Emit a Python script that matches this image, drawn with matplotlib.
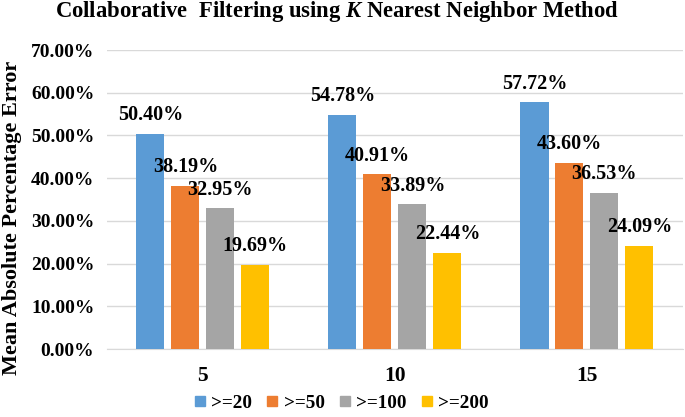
import matplotlib
matplotlib.use("Agg")
import matplotlib.pyplot as plt
from matplotlib.lines import Line2D
import numpy as np

# chart data
k_values = ["5", "10", "15"]
series_names = [">=20", ">=50", ">=100", ">=200"]
ge20 = [50.40, 54.78, 57.72]
ge50 = [38.19, 40.91, 43.60]
ge100 = [32.95, 33.89, 36.53]
ge200 = [19.69, 22.44, 24.09]
colors = ["#5B9BD5", "#ED7D31", "#A5A5A5", "#FFC000"]
yticks = [0, 10, 20, 30, 40, 50, 60, 70]

plt.rcParams['font.family'] = ['Liberation Serif', 'DejaVu Serif']
plt.rcParams['font.weight'] = 'bold'
plt.rcParams['mathtext.fontset'] = 'custom'
plt.rcParams['mathtext.it'] = 'Liberation Serif:italic:bold'
plt.rcParams['mathtext.rm'] = 'Liberation Serif:bold'

fig = plt.figure(figsize=(6.85, 4.17), dpi=100)
ax = fig.add_axes([0.156, 0.163, 0.841, 0.717])

x = np.arange(len(k_values))
width = 0.146
step = 0.182
all_series = [ge20, ge50, ge100, ge200]

for i, vals in enumerate(all_series):
    pos = x + (i - 1.5) * step
    ax.bar(pos, vals, width, color=colors[i], zorder=3)
    for px, v in zip(pos, vals):
        ax.annotate(f"{v:.2f}%", (px, v), xytext=(0, 13.5), textcoords="offset points",
                    ha="center", va="center", fontsize=14.5, fontweight="bold", zorder=5)

ax.set_xlim(-0.5, 2.5)
ax.set_ylim(0, 70)
ax.set_yticks(yticks)
ax.set_yticklabels([f"{t:.2f}%" for t in yticks], fontsize=14, fontweight="bold")
ax.set_xticks(x)
ax.set_xticklabels(k_values, fontsize=15.5, fontweight="bold")
ax.tick_params(axis="both", length=0)
ax.tick_params(axis="y", pad=9)
ax.tick_params(axis="x", pad=12)
ax.grid(axis="y", color="#D9D9D9", linewidth=1, zorder=0)
for s in ["top", "right", "left"]:
    ax.spines[s].set_visible(False)
ax.spines["bottom"].set_color("#D9D9D9")

fig.text(0.018, 0.477, "Mean Absolute Percentage Error", rotation=90,
         ha="center", va="center", fontsize=16, fontweight="bold")
fig.text(0.492, 0.972, "Collaborative  Filtering using $K$ Nearest Neighbor Method",
         ha="center", va="center", fontsize=16.3, fontweight="bold")

handles = [Line2D([], [], marker="s", linestyle="none", markersize=6.5,
                  markerfacecolor=c, markeredgecolor=c) for c in colors]
fig.legend(handles, series_names, loc="center", bbox_to_anchor=(0.4985, 0.034),
           ncol=4, frameon=False, handlelength=0.6, handletextpad=0.3,
           columnspacing=0.75, prop={'size': 13.8, 'weight': 'bold'})

fig.savefig("out.png", dpi=100)
